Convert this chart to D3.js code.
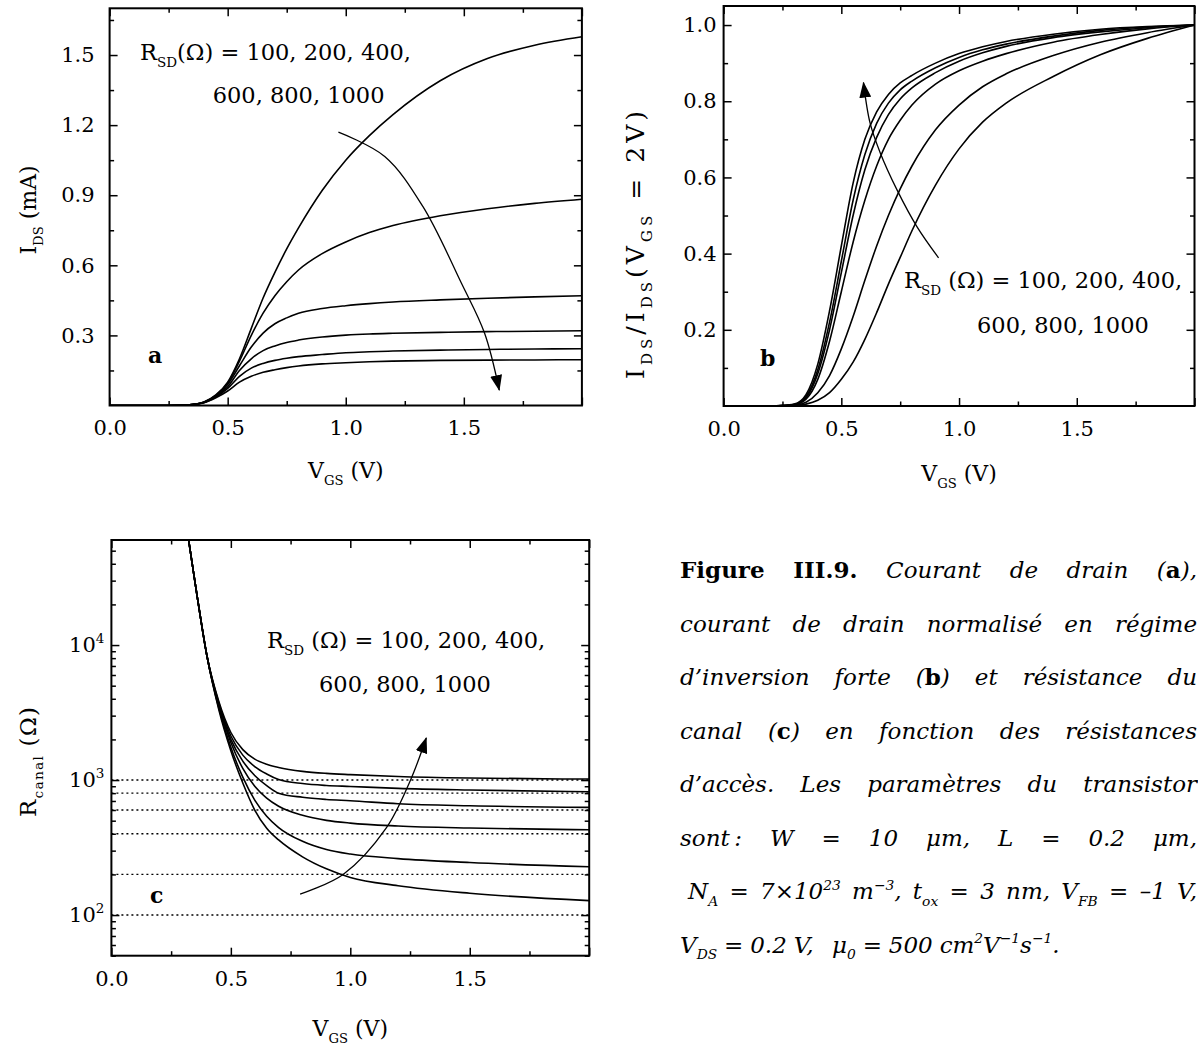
<!DOCTYPE html>
<html>
<head>
<meta charset="utf-8">
<script src="https://cdn.jsdelivr.net/npm/d3@7/dist/d3.min.js"></script>
<style>
html,body{margin:0;padding:0;background:#fff;}
svg{display:block;}
svg text{font-family:"DejaVu Serif",serif;fill:#000;}
</style>
</head>
<body>
<svg id="chart" width="1198" height="1053" viewBox="0 0 1198 1053"></svg>
<script>
// ================= DATA =================
const rsdValues = [100, 200, 400, 600, 800, 1000];

// Panel a : I_DS (mA) vs V_GS (V)
const vgsA = [0, 0.2, 0.3, 0.35, 0.4, 0.45, 0.5, 0.55, 0.6, 0.65, 0.7, 0.75, 0.8, 0.9, 1.0, 1.1, 1.2, 1.4, 1.6, 1.8, 2.0];
const idsA_100  = [0, 0, 0.001, 0.004, 0.015, 0.045, 0.100, 0.200, 0.330, 0.460, 0.570, 0.670, 0.760, 0.920, 1.050, 1.155, 1.245, 1.390, 1.485, 1.542, 1.578];
const idsA_200  = [0, 0, 0.001, 0.004, 0.015, 0.043, 0.095, 0.190, 0.300, 0.395, 0.470, 0.530, 0.580, 0.650, 0.700, 0.740, 0.770, 0.812, 0.842, 0.865, 0.883];
const idsA_400  = [0, 0, 0.001, 0.004, 0.014, 0.040, 0.090, 0.170, 0.250, 0.310, 0.350, 0.375, 0.395, 0.415, 0.427, 0.436, 0.443, 0.452, 0.459, 0.465, 0.470];
const idsA_600  = [0, 0, 0.001, 0.004, 0.013, 0.038, 0.080, 0.150, 0.200, 0.235, 0.255, 0.270, 0.280, 0.293, 0.301, 0.306, 0.309, 0.313, 0.316, 0.318, 0.320];
const idsA_800  = [0, 0, 0.001, 0.004, 0.013, 0.036, 0.073, 0.125, 0.160, 0.180, 0.193, 0.202, 0.209, 0.218, 0.226, 0.230, 0.233, 0.237, 0.240, 0.242, 0.243];
const idsA_1000 = [0, 0, 0.001, 0.004, 0.012, 0.033, 0.062, 0.100, 0.125, 0.142, 0.153, 0.162, 0.169, 0.178, 0.183, 0.187, 0.190, 0.193, 0.194, 0.195, 0.196];

// Panel b : I_DS / I_DS(V_GS = 2 V)
const vgsB = [0, 0.2, 0.25, 0.3, 0.35, 0.4, 0.45, 0.5, 0.55, 0.6, 0.65, 0.7, 0.75, 0.8, 0.9, 1.0, 1.1, 1.2, 1.4, 1.6, 1.8, 2.0];
const normB_100  = [0, 0, 0, 0.001, 0.005, 0.015, 0.035, 0.070, 0.115, 0.175, 0.245, 0.320, 0.390, 0.460, 0.580, 0.675, 0.745, 0.795, 0.865, 0.922, 0.965, 1];
const normB_200  = [0, 0, 0.001, 0.002, 0.010, 0.035, 0.080, 0.150, 0.235, 0.330, 0.420, 0.500, 0.570, 0.630, 0.725, 0.790, 0.838, 0.872, 0.920, 0.955, 0.980, 1];
const normB_400  = [0, 0, 0.001, 0.003, 0.018, 0.070, 0.170, 0.300, 0.430, 0.540, 0.630, 0.700, 0.750, 0.790, 0.845, 0.880, 0.905, 0.925, 0.955, 0.975, 0.990, 1];
const normB_600  = [0, 0, 0.001, 0.004, 0.022, 0.085, 0.200, 0.350, 0.500, 0.620, 0.705, 0.765, 0.806, 0.835, 0.875, 0.905, 0.927, 0.944, 0.967, 0.982, 0.993, 1];
const normB_800  = [0, 0, 0.001, 0.004, 0.025, 0.095, 0.220, 0.380, 0.540, 0.660, 0.742, 0.795, 0.830, 0.853, 0.888, 0.915, 0.935, 0.950, 0.971, 0.986, 0.995, 1];
const normB_1000 = [0, 0, 0.001, 0.005, 0.030, 0.110, 0.250, 0.420, 0.585, 0.700, 0.772, 0.818, 0.848, 0.868, 0.900, 0.925, 0.943, 0.957, 0.976, 0.989, 0.996, 1];

// Panel c : R_canal (ohm), log scale
const vgsC = [0.3, 0.33, 0.36, 0.4, 0.45, 0.5, 0.55, 0.6, 0.65, 0.7, 0.8, 0.9, 1.0, 1.2, 1.5, 2.0];
const rC_100  = [112000, 50000, 22400, 8300, 3300, 1650, 950, 600, 440, 360, 270, 220, 190, 165, 145, 128];
const rC_200  = [112000, 50000, 22400, 8300, 3400, 1750, 1050, 710, 540, 445, 352, 306, 283, 262, 245, 228];
const rC_400  = [112000, 50000, 22400, 8300, 3500, 1900, 1220, 900, 735, 640, 548, 503, 480, 457, 441, 428];
const rC_600  = [112000, 50000, 22400, 8300, 3600, 2000, 1380, 1080, 910, 800, 745, 718, 703, 668, 645, 628];
const rC_800  = [112000, 50000, 22400, 8300, 3700, 2120, 1530, 1260, 1110, 1010, 942, 912, 897, 867, 843, 820];
const rC_1000 = [112000, 50000, 22400, 8300, 3800, 2250, 1680, 1430, 1310, 1240, 1160, 1120, 1097, 1063, 1035, 1017];

// ticks
const xTicks = [0, 0.5, 1.0, 1.5, 2.0];
const xTickLabels = ["0.0", "0.5", "1.0", "1.5", ""];
const xMinor = [0.25, 0.75, 1.25, 1.75];
const yTicksA = [0.3, 0.6, 0.9, 1.2, 1.5];
const yMinorA = [0.15, 0.45, 0.75, 1.05, 1.35, 1.65];
const yTicksB = [0.2, 0.4, 0.6, 0.8, 1.0];
const yMinorB = [0.1, 0.3, 0.5, 0.7, 0.9];
const yTicksC = [100, 1000, 10000];
const yMinorC = [50, 60, 70, 80, 90, 200, 300, 400, 500, 600, 700, 800, 900,
                 2000, 3000, 4000, 5000, 6000, 7000, 8000, 9000, 20000, 30000, 40000, 50000];

// annotation arrows (data units)
const arrowA = [[0.969, 1.17], [1.165, 1.066], [1.327, 0.851], [1.49, 0.523], [1.588, 0.309], [1.65, 0.066]];
const arrowB = [[0.913, 0.389], [0.821, 0.471], [0.736, 0.568], [0.665, 0.665], [0.622, 0.743], [0.594, 0.849]];
const arrowC = [[0.79, 143], [0.97, 200], [1.15, 440], [1.25, 980], [1.318, 2050]];

// ================= DRAW =================
const svg = d3.select("#chart");
svg.append("rect").attr("width", 1198).attr("height", 1053).attr("fill", "#fff");

const defs = svg.append("defs");
defs.append("marker").attr("id", "ah")
  .attr("viewBox", "0 0 16 12").attr("refX", 15).attr("refY", 6)
  .attr("markerWidth", 16).attr("markerHeight", 12)
  .attr("markerUnits", "userSpaceOnUse").attr("orient", "auto")
  .append("path").attr("d", "M0,0 L16,6 L0,12 Z").attr("fill", "#000");

function rich(sel, parts, fs) {
  let shift = 0;
  parts.forEach(p => {
    if (typeof p === "string") p = {t: p};
    const target = p.sub ? fs * 0.3 : (p.sup ? -fs * 0.4 : 0);
    const ts = sel.append("tspan").text(p.t);
    if (target - shift !== 0) ts.attr("dy", target - shift);
    shift = target;
    if (p.sub || p.sup) ts.attr("font-size", fs * (p.scale || 0.6));
    if (p.b) ts.attr("font-weight", "bold").attr("font-style", "normal");
    if (p.i) ts.attr("font-style", "italic");
    if (p.up) ts.attr("font-style", "normal");
  });
  return sel;
}

const TICK_FS = 21, TITLE_FS = 22, ANN_FS = 22.5;

function drawPanel(cfg) {
  const g = svg.append("g");
  const x = d3.scaleLinear().domain([0, 2]).range([cfg.x0, cfg.x1]);
  const y = (cfg.log ? d3.scaleLog() : d3.scaleLinear()).domain(cfg.yDomain).range([cfg.y1, cfg.y0]);
  const clipId = "clip" + cfg.name;
  defs.append("clipPath").attr("id", clipId).append("rect")
    .attr("x", cfg.x0).attr("y", cfg.y0).attr("width", cfg.x1 - cfg.x0).attr("height", cfg.y1 - cfg.y0);

  const styleAxis = sel => {
    sel.attr("font-size", null).attr("font-family", null);
    sel.select(".domain").remove();
    sel.selectAll(".tick line").attr("stroke-width", 1.5);
    sel.selectAll(".tick text").attr("font-size", TICK_FS);
  };
  g.append("g").attr("transform", `translate(0,${cfg.y1})`)
    .call(d3.axisBottom(x).tickValues(xTicks).tickSize(-8).tickPadding(15)
      .tickFormat((d, i) => xTickLabels[i])).call(styleAxis);
  g.append("g").attr("transform", `translate(0,${cfg.y1})`)
    .call(d3.axisBottom(x).tickValues(xMinor).tickSize(-4.5).tickFormat(() => "")).call(styleAxis);
  g.append("g").attr("transform", `translate(0,${cfg.y0})`)
    .call(d3.axisTop(x).tickValues(xTicks).tickSize(-8).tickFormat(() => "")).call(styleAxis);
  g.append("g").attr("transform", `translate(0,${cfg.y0})`)
    .call(d3.axisTop(x).tickValues(xMinor).tickSize(-4.5).tickFormat(() => "")).call(styleAxis);
  const left = g.append("g").attr("transform", `translate(${cfg.x0},0)`)
    .call(d3.axisLeft(y).tickValues(cfg.yTicks).tickSize(-8).tickPadding(cfg.yPad)
      .tickFormat(cfg.log ? () => "" : d3.format(".1f"))).call(styleAxis);
  if (cfg.log) {
    left.selectAll(".tick text").each(function(d) {
      const t = d3.select(this);
      t.append("tspan").text("10");
      t.append("tspan").attr("dy", -9).attr("font-size", 13.5).text(Math.round(Math.log10(d)));
    });
  }
  g.append("g").attr("transform", `translate(${cfg.x0},0)`)
    .call(d3.axisLeft(y).tickValues(cfg.yMinor).tickSize(-4.5).tickFormat(() => "")).call(styleAxis);
  g.append("g").attr("transform", `translate(${cfg.x1},0)`)
    .call(d3.axisRight(y).tickValues(cfg.yTicks).tickSize(-8).tickFormat(() => "")).call(styleAxis);
  g.append("g").attr("transform", `translate(${cfg.x1},0)`)
    .call(d3.axisRight(y).tickValues(cfg.yMinor).tickSize(-4.5).tickFormat(() => "")).call(styleAxis);

  const plot = g.append("g").attr("clip-path", `url(#${clipId})`);
  if (cfg.refLines) {
    plot.selectAll("line.ref").data(cfg.refLines).join("line")
      .attr("x1", x(0)).attr("x2", x(2)).attr("y1", d => y(d)).attr("y2", d => y(d))
      .attr("stroke", "#000").attr("stroke-width", 1.4).attr("stroke-dasharray", "2,3");
  }
  const line = d3.line().x(d => x(d[0])).y(d => y(d[1])).curve(d3.curveMonotoneX);
  cfg.series.forEach(s => {
    plot.append("path").attr("d", line(cfg.xs.map((v, i) => [v, s[i]])))
      .attr("fill", "none").attr("stroke", "#000").attr("stroke-width", 1.6);
  });
  g.append("rect").attr("x", cfg.x0).attr("y", cfg.y0)
    .attr("width", cfg.x1 - cfg.x0).attr("height", cfg.y1 - cfg.y0)
    .attr("fill", "none").attr("stroke", "#000").attr("stroke-width", 2);

  const aLine = d3.line().x(d => x(d[0])).y(d => y(d[1])).curve(d3.curveCatmullRom);
  g.append("path").attr("d", aLine(cfg.arrow)).attr("fill", "none")
    .attr("stroke", "#000").attr("stroke-width", 1.3).attr("marker-end", "url(#ah)");

  rich(g.append("text").attr("x", (cfg.x0 + cfg.x1) / 2).attr("y", cfg.xTitleY)
    .attr("text-anchor", "middle").attr("font-size", TITLE_FS),
    ["V", {t: "GS", sub: true}, " (V)"], TITLE_FS);
  const yfs = cfg.yTitleFs || TITLE_FS;
  const yt = rich(g.append("text").attr("transform", `translate(${cfg.yTitleX},${cfg.yTitleY}) rotate(-90)`)
    .attr("text-anchor", "middle").attr("font-size", yfs), cfg.yTitle, yfs);
  if (cfg.yTitleLen) yt.attr("textLength", cfg.yTitleLen).attr("lengthAdjust", "spacing");
  g.append("text").attr("x", cfg.letter[0]).attr("y", cfg.letter[1])
    .attr("font-size", 22).attr("font-weight", "bold").text(cfg.name);
  cfg.ann.forEach(a => {
    rich(g.append("text").attr("x", a.x).attr("y", a.y).attr("font-size", ANN_FS), a.parts, ANN_FS);
  });
  return {x, y};
}

drawPanel({
  name: "a", x0: 109.6, x1: 581.9, y0: 8.3, y1: 405.5, yDomain: [0, 1.7],
  yTicks: yTicksA, yMinor: yMinorA, yPad: 15,
  xs: vgsA, series: [idsA_100, idsA_200, idsA_400, idsA_600, idsA_800, idsA_1000],
  arrow: arrowA, xTitleY: 478, yTitleX: 36, yTitleY: 210,
  yTitle: ["I", {t: "DS", sub: true}, " (mA)"],
  letter: [148, 363],
  ann: [
    {x: 140, y: 60, parts: ["R", {t: "SD", sub: true}, "(Ω) = " + rsdValues.slice(0, 3).join(", ") + ","]},
    {x: 212.7, y: 103, parts: [rsdValues.slice(3).join(", ")]}
  ]
});

drawPanel({
  name: "b", x0: 723.6, x1: 1194.5, y0: 6, y1: 406, yDomain: [0, 1.05],
  yTicks: yTicksB, yMinor: yMinorB, yPad: 7,
  xs: vgsB, series: [normB_100, normB_200, normB_400, normB_600, normB_800, normB_1000],
  arrow: arrowB, xTitleY: 481, yTitleX: 644, yTitleY: 245, yTitleFs: 25, yTitleLen: 268,
  yTitle: ["I", {t: "DS", sub: true}, "/I", {t: "DS", sub: true}, "(V", {t: "GS", sub: true}, " = 2V)"],
  letter: [760, 366],
  ann: [
    {x: 904, y: 288, parts: ["R", {t: "SD", sub: true}, " (Ω) = " + rsdValues.slice(0, 3).join(", ") + ","]},
    {x: 977, y: 333, parts: [rsdValues.slice(3).join(", ")]}
  ]
});

drawPanel({
  name: "c", x0: 111.4, x1: 589.2, y0: 540, y1: 955.7, yDomain: [50, 60000], log: true,
  yTicks: yTicksC, yMinor: yMinorC, yPad: 7,
  xs: vgsC, series: [rC_100, rC_200, rC_400, rC_600, rC_800, rC_1000],
  refLines: rsdValues,
  arrow: arrowC, xTitleY: 1036, yTitleX: 36, yTitleY: 762, yTitleFs: 23, yTitleLen: 110,
  yTitle: ["R", {t: "canal", sub: true}, " (Ω)"],
  letter: [150, 903],
  ann: [
    {x: 267, y: 648, parts: ["R", {t: "SD", sub: true}, " (Ω) = " + rsdValues.slice(0, 3).join(", ") + ","]},
    {x: 319, y: 692, parts: [rsdValues.slice(3).join(", ")]}
  ]
});

// ================= CAPTION =================
const CAP_FS = 23;
const capX0 = 680, capX1 = 1197;
const capLines = [
  {j: true, w: [[{t: "Figure", b: true}], [{t: "III.9.", b: true}], ["Courant"], ["de"], ["drain"], ["(", {t: "a", b: true}, "),"]]},
  {j: true, w: [["courant"], ["de"], ["drain"], ["normalisé"], ["en"], ["régime"]]},
  {j: true, w: [["d’inversion"], ["forte"], ["(", {t: "b", b: true}, ")"], ["et"], ["résistance"], ["du"]]},
  {j: true, w: [["canal"], ["(", {t: "c", b: true}, ")"], ["en"], ["fonction"], ["des"], ["résistances"]]},
  {j: true, w: [["d’accès."], ["Les"], ["paramètres"], ["du"], ["transistor"]]},
  {j: true, w: [["sont\u2009:"], ["W"], ["="], ["10"], ["μm,"], ["L"], ["="], ["0.2"], ["μm,"]]},
  {j: true, indent: 8, w: [["N", {t: "A", sub: true}], ["="], ["7×10", {t: "23", sup: true}], ["m", {t: "−3", sup: true}, ","],
        ["t", {t: "ox", sub: true}], ["="], ["3"], ["nm,"], ["V", {t: "FB", sub: true}], ["="], ["–1"], ["V,"]]},
  {j: false, w: [["V", {t: "DS", sub: true}], ["="], ["0.2"], ["V,\u2002"], ["μ", {t: "0", sub: true}], ["="], ["500"],
        ["cm", {t: "2", sup: true}, "V", {t: "−1", sup: true}, "s", {t: "−1", sup: true}, "."]]}
];
const capG = svg.append("g");
capLines.forEach((ln, li) => {
  const yb = 578 + li * 53.5;
  const x0 = capX0 + (ln.indent || 0);
  const texts = ln.w.map(w => rich(capG.append("text").attr("y", yb).attr("font-size", CAP_FS)
    .attr("font-style", "italic"), w, CAP_FS));
  const widths = texts.map(t => t.node().getComputedTextLength());
  const total = d3.sum(widths);
  const gap = ln.j ? (capX1 - x0 - total) / (texts.length - 1) : CAP_FS * 0.3;
  let cx = x0;
  texts.forEach((t, i) => { t.attr("x", cx); cx += widths[i] + gap; });
});
</script>
</body>
</html>
